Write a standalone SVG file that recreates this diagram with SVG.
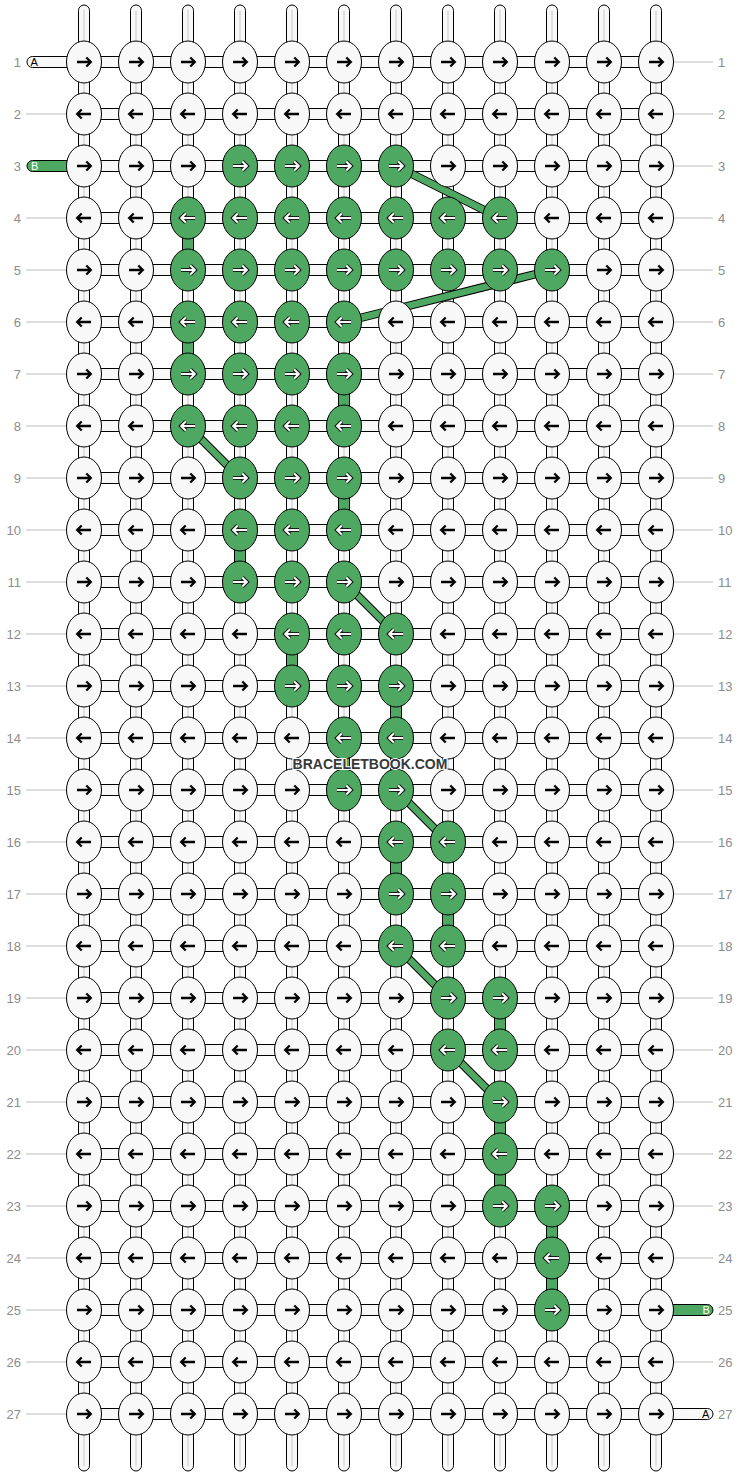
<svg xmlns="http://www.w3.org/2000/svg" xmlns:xlink="http://www.w3.org/1999/xlink" width="740" height="1476" viewBox="0 0 740 1476">
<defs>
<style>
.tube{fill:#f8f8f8;stroke:#000;stroke-width:1}
.core{stroke:#c8c8c8;stroke-width:1}
.gline{stroke:#bdbdbd;stroke-width:1}
.num{font-family:"Liberation Sans",Arial,sans-serif;font-size:13px;fill:#8c8c8c}
.let{font-family:"Liberation Sans",Arial,sans-serif;font-size:11px}
.kw{fill:#f8f8f8;stroke:#000;stroke-width:1}
.kg{fill:#4ea862;stroke:#000;stroke-width:1}
.ab{fill:none;stroke:#000;stroke-width:2.3}
.ao{fill:none;stroke:#1a1a1a;stroke-width:4.2}
.aw{fill:none;stroke:#fff;stroke-width:2}
.gv{fill:#4ea862;stroke:#000;stroke-width:1}
.dk{stroke:#000;stroke-width:8.5;stroke-linecap:butt}
.dg{stroke:#4ea862;stroke-width:6.5;stroke-linecap:butt}
.wm{font-family:"Liberation Sans",Arial,sans-serif;font-size:14px;font-weight:bold;fill:#383838;stroke:#fff;stroke-width:2;paint-order:stroke;text-anchor:middle}
</style>
<path id="pr" d="M-7,0H6M2.3,-4.5L6.8,0L2.3,4.5"/>
<path id="pl" d="M7,0H-6M-2.3,-4.5L-6.8,0L-2.3,4.5"/>
<g id="wr"><ellipse class="kw" rx="17.5" ry="21"/><use xlink:href="#pr" class="ab"/></g>
<g id="wl"><ellipse class="kw" rx="17.5" ry="21"/><use xlink:href="#pl" class="ab"/></g>
<g id="gr"><ellipse class="kg" rx="17.5" ry="21"/><use xlink:href="#pr" class="ao"/><use xlink:href="#pr" class="aw"/></g>
<g id="gl"><ellipse class="kg" rx="17.5" ry="21"/><use xlink:href="#pl" class="ao"/><use xlink:href="#pl" class="aw"/></g>
</defs>
<rect width="740" height="1476" fill="#fff"/>
<g id="labels">
<g class="gline">
<line x1="26" y1="114" x2="66" y2="114"/><line x1="26" y1="218" x2="66" y2="218"/><line x1="26" y1="270" x2="66" y2="270"/><line x1="26" y1="322" x2="66" y2="322"/><line x1="26" y1="374" x2="66" y2="374"/><line x1="26" y1="426" x2="66" y2="426"/><line x1="26" y1="478" x2="66" y2="478"/><line x1="26" y1="530" x2="66" y2="530"/><line x1="26" y1="582" x2="66" y2="582"/><line x1="26" y1="634" x2="66" y2="634"/><line x1="26" y1="686" x2="66" y2="686"/><line x1="26" y1="738" x2="66" y2="738"/><line x1="26" y1="790" x2="66" y2="790"/><line x1="26" y1="842" x2="66" y2="842"/><line x1="26" y1="894" x2="66" y2="894"/><line x1="26" y1="946" x2="66" y2="946"/><line x1="26" y1="998" x2="66" y2="998"/><line x1="26" y1="1050" x2="66" y2="1050"/><line x1="26" y1="1102" x2="66" y2="1102"/><line x1="26" y1="1154" x2="66" y2="1154"/><line x1="26" y1="1206" x2="66" y2="1206"/><line x1="26" y1="1258" x2="66" y2="1258"/><line x1="26" y1="1310" x2="66" y2="1310"/><line x1="26" y1="1362" x2="66" y2="1362"/><line x1="26" y1="1414" x2="66" y2="1414"/>
<line x1="674" y1="62" x2="713" y2="62"/><line x1="674" y1="114" x2="713" y2="114"/><line x1="674" y1="166" x2="713" y2="166"/><line x1="674" y1="218" x2="713" y2="218"/><line x1="674" y1="270" x2="713" y2="270"/><line x1="674" y1="322" x2="713" y2="322"/><line x1="674" y1="374" x2="713" y2="374"/><line x1="674" y1="426" x2="713" y2="426"/><line x1="674" y1="478" x2="713" y2="478"/><line x1="674" y1="530" x2="713" y2="530"/><line x1="674" y1="582" x2="713" y2="582"/><line x1="674" y1="634" x2="713" y2="634"/><line x1="674" y1="686" x2="713" y2="686"/><line x1="674" y1="738" x2="713" y2="738"/><line x1="674" y1="790" x2="713" y2="790"/><line x1="674" y1="842" x2="713" y2="842"/><line x1="674" y1="894" x2="713" y2="894"/><line x1="674" y1="946" x2="713" y2="946"/><line x1="674" y1="998" x2="713" y2="998"/><line x1="674" y1="1050" x2="713" y2="1050"/><line x1="674" y1="1102" x2="713" y2="1102"/><line x1="674" y1="1154" x2="713" y2="1154"/><line x1="674" y1="1206" x2="713" y2="1206"/><line x1="674" y1="1258" x2="713" y2="1258"/><line x1="674" y1="1362" x2="713" y2="1362"/>
</g>
<g class="num" text-anchor="end">
<text x="21" y="66.5">1</text><text x="21" y="118.5">2</text><text x="21" y="170.5">3</text><text x="21" y="222.5">4</text><text x="21" y="274.5">5</text><text x="21" y="326.5">6</text><text x="21" y="378.5">7</text><text x="21" y="430.5">8</text><text x="21" y="482.5">9</text><text x="21" y="534.5">10</text><text x="21" y="586.5">11</text><text x="21" y="638.5">12</text><text x="21" y="690.5">13</text><text x="21" y="742.5">14</text><text x="21" y="794.5">15</text><text x="21" y="846.5">16</text><text x="21" y="898.5">17</text><text x="21" y="950.5">18</text><text x="21" y="1002.5">19</text><text x="21" y="1054.5">20</text><text x="21" y="1106.5">21</text><text x="21" y="1158.5">22</text><text x="21" y="1210.5">23</text><text x="21" y="1262.5">24</text><text x="21" y="1314.5">25</text><text x="21" y="1366.5">26</text><text x="21" y="1418.5">27</text>
</g>
<g class="num">
<text x="718" y="66.5">1</text><text x="718" y="118.5">2</text><text x="718" y="170.5">3</text><text x="718" y="222.5">4</text><text x="718" y="274.5">5</text><text x="718" y="326.5">6</text><text x="718" y="378.5">7</text><text x="718" y="430.5">8</text><text x="718" y="482.5">9</text><text x="718" y="534.5">10</text><text x="718" y="586.5">11</text><text x="718" y="638.5">12</text><text x="718" y="690.5">13</text><text x="718" y="742.5">14</text><text x="718" y="794.5">15</text><text x="718" y="846.5">16</text><text x="718" y="898.5">17</text><text x="718" y="950.5">18</text><text x="718" y="1002.5">19</text><text x="718" y="1054.5">20</text><text x="718" y="1106.5">21</text><text x="718" y="1158.5">22</text><text x="718" y="1210.5">23</text><text x="718" y="1262.5">24</text><text x="718" y="1314.5">25</text><text x="718" y="1366.5">26</text><text x="718" y="1418.5">27</text>
</g>
</g>
<g id="connectors">
<g id="vertical-strands">
<rect class="tube" x="78.5" y="5" width="11" height="1466" rx="5.5"/><rect class="tube" x="130.5" y="5" width="11" height="1466" rx="5.5"/><rect class="tube" x="182.5" y="5" width="11" height="1466" rx="5.5"/><rect class="tube" x="234.5" y="5" width="11" height="1466" rx="5.5"/><rect class="tube" x="286.5" y="5" width="11" height="1466" rx="5.5"/><rect class="tube" x="338.5" y="5" width="11" height="1466" rx="5.5"/><rect class="tube" x="390.5" y="5" width="11" height="1466" rx="5.5"/><rect class="tube" x="442.5" y="5" width="11" height="1466" rx="5.5"/><rect class="tube" x="494.5" y="5" width="11" height="1466" rx="5.5"/><rect class="tube" x="546.5" y="5" width="11" height="1466" rx="5.5"/><rect class="tube" x="598.5" y="5" width="11" height="1466" rx="5.5"/><rect class="tube" x="650.5" y="5" width="11" height="1466" rx="5.5"/>
<g class="core"><line x1="84" y1="10" x2="84" y2="1466"/><line x1="136" y1="10" x2="136" y2="1466"/><line x1="188" y1="10" x2="188" y2="1466"/><line x1="240" y1="10" x2="240" y2="1466"/><line x1="292" y1="10" x2="292" y2="1466"/><line x1="344" y1="10" x2="344" y2="1466"/><line x1="396" y1="10" x2="396" y2="1466"/><line x1="448" y1="10" x2="448" y2="1466"/><line x1="500" y1="10" x2="500" y2="1466"/><line x1="552" y1="10" x2="552" y2="1466"/><line x1="604" y1="10" x2="604" y2="1466"/><line x1="656" y1="10" x2="656" y2="1466"/></g>
</g>
<g id="horizontal-strands">
<rect class="tube" x="84" y="56.5" width="572" height="11"/><rect class="tube" x="84" y="108.5" width="572" height="11"/><rect class="tube" x="84" y="160.5" width="572" height="11"/><rect class="tube" x="84" y="212.5" width="572" height="11"/><rect class="tube" x="84" y="264.5" width="572" height="11"/><rect class="tube" x="84" y="316.5" width="572" height="11"/><rect class="tube" x="84" y="368.5" width="572" height="11"/><rect class="tube" x="84" y="420.5" width="572" height="11"/><rect class="tube" x="84" y="472.5" width="572" height="11"/><rect class="tube" x="84" y="524.5" width="572" height="11"/><rect class="tube" x="84" y="576.5" width="572" height="11"/><rect class="tube" x="84" y="628.5" width="572" height="11"/><rect class="tube" x="84" y="680.5" width="572" height="11"/><rect class="tube" x="84" y="732.5" width="572" height="11"/><rect class="tube" x="84" y="784.5" width="572" height="11"/><rect class="tube" x="84" y="836.5" width="572" height="11"/><rect class="tube" x="84" y="888.5" width="572" height="11"/><rect class="tube" x="84" y="940.5" width="572" height="11"/><rect class="tube" x="84" y="992.5" width="572" height="11"/><rect class="tube" x="84" y="1044.5" width="572" height="11"/><rect class="tube" x="84" y="1096.5" width="572" height="11"/><rect class="tube" x="84" y="1148.5" width="572" height="11"/><rect class="tube" x="84" y="1200.5" width="572" height="11"/><rect class="tube" x="84" y="1252.5" width="572" height="11"/><rect class="tube" x="84" y="1304.5" width="572" height="11"/><rect class="tube" x="84" y="1356.5" width="572" height="11"/><rect class="tube" x="84" y="1408.5" width="572" height="11"/>
</g>
<g id="end-strands">
<rect class="tube" x="27" y="56.5" width="50" height="11" rx="5.5"/>
<rect class="gv" x="27" y="160.5" width="50" height="11" rx="5.5"/>
<rect class="gv" x="663" y="1304.5" width="50" height="11" rx="5.5"/>
<rect class="tube" x="663" y="1408.5" width="50" height="11" rx="5.5"/>
<text class="let" x="30.5" y="66" fill="#000">A</text>
<text class="let" x="31" y="170" fill="#fff">B</text>
<text class="let" x="702.5" y="1314" fill="#fff">B</text>
<text class="let" x="702" y="1418" fill="#000">A</text>
</g>
<g id="green-vertical">
<rect class="gv" x="182.5" y="236" width="11" height="16"/><rect class="gv" x="182.5" y="340" width="11" height="16"/><rect class="gv" x="338.5" y="392" width="11" height="16"/><rect class="gv" x="338.5" y="496" width="11" height="16"/><rect class="gv" x="234.5" y="548" width="11" height="16"/><rect class="gv" x="286.5" y="652" width="11" height="16"/><rect class="gv" x="390.5" y="704" width="11" height="16"/><rect class="gv" x="338.5" y="756" width="11" height="16"/><rect class="gv" x="390.5" y="860" width="11" height="16"/><rect class="gv" x="442.5" y="912" width="11" height="16"/><rect class="gv" x="494.5" y="1016" width="11" height="16"/><rect class="gv" x="494.5" y="1120" width="11" height="16"/><rect class="gv" x="494.5" y="1172" width="11" height="16"/><rect class="gv" x="546.5" y="1224" width="11" height="16"/><rect class="gv" x="546.5" y="1276" width="11" height="16"/>
</g>
<g id="green-diagonal">
<g class="dk"><line x1="396" y1="166" x2="500" y2="218"/><line x1="552" y1="270" x2="344" y2="322"/><line x1="188" y1="426" x2="240" y2="478"/><line x1="344" y1="582" x2="396" y2="634"/><line x1="396" y1="790" x2="448" y2="842"/><line x1="396" y1="946" x2="448" y2="998"/><line x1="448" y1="1050" x2="500" y2="1102"/></g>
<g class="dg"><line x1="396" y1="166" x2="500" y2="218"/><line x1="552" y1="270" x2="344" y2="322"/><line x1="188" y1="426" x2="240" y2="478"/><line x1="344" y1="582" x2="396" y2="634"/><line x1="396" y1="790" x2="448" y2="842"/><line x1="396" y1="946" x2="448" y2="998"/><line x1="448" y1="1050" x2="500" y2="1102"/></g>
</g>
</g>
<g id="knots">
<g id="k1-1" transform="translate(84 62)"><use xlink:href="#wr"/></g><g id="k1-2" transform="translate(136 62)"><use xlink:href="#wr"/></g><g id="k1-3" transform="translate(188 62)"><use xlink:href="#wr"/></g><g id="k1-4" transform="translate(240 62)"><use xlink:href="#wr"/></g><g id="k1-5" transform="translate(292 62)"><use xlink:href="#wr"/></g><g id="k1-6" transform="translate(344 62)"><use xlink:href="#wr"/></g><g id="k1-7" transform="translate(396 62)"><use xlink:href="#wr"/></g><g id="k1-8" transform="translate(448 62)"><use xlink:href="#wr"/></g><g id="k1-9" transform="translate(500 62)"><use xlink:href="#wr"/></g><g id="k1-10" transform="translate(552 62)"><use xlink:href="#wr"/></g><g id="k1-11" transform="translate(604 62)"><use xlink:href="#wr"/></g><g id="k1-12" transform="translate(656 62)"><use xlink:href="#wr"/></g>
<g id="k2-1" transform="translate(84 114)"><use xlink:href="#wl"/></g><g id="k2-2" transform="translate(136 114)"><use xlink:href="#wl"/></g><g id="k2-3" transform="translate(188 114)"><use xlink:href="#wl"/></g><g id="k2-4" transform="translate(240 114)"><use xlink:href="#wl"/></g><g id="k2-5" transform="translate(292 114)"><use xlink:href="#wl"/></g><g id="k2-6" transform="translate(344 114)"><use xlink:href="#wl"/></g><g id="k2-7" transform="translate(396 114)"><use xlink:href="#wl"/></g><g id="k2-8" transform="translate(448 114)"><use xlink:href="#wl"/></g><g id="k2-9" transform="translate(500 114)"><use xlink:href="#wl"/></g><g id="k2-10" transform="translate(552 114)"><use xlink:href="#wl"/></g><g id="k2-11" transform="translate(604 114)"><use xlink:href="#wl"/></g><g id="k2-12" transform="translate(656 114)"><use xlink:href="#wl"/></g>
<g id="k3-1" transform="translate(84 166)"><use xlink:href="#wr"/></g><g id="k3-2" transform="translate(136 166)"><use xlink:href="#wr"/></g><g id="k3-3" transform="translate(188 166)"><use xlink:href="#wr"/></g><g id="k3-4" transform="translate(240 166)"><use xlink:href="#gr"/></g><g id="k3-5" transform="translate(292 166)"><use xlink:href="#gr"/></g><g id="k3-6" transform="translate(344 166)"><use xlink:href="#gr"/></g><g id="k3-7" transform="translate(396 166)"><use xlink:href="#gr"/></g><g id="k3-8" transform="translate(448 166)"><use xlink:href="#wr"/></g><g id="k3-9" transform="translate(500 166)"><use xlink:href="#wr"/></g><g id="k3-10" transform="translate(552 166)"><use xlink:href="#wr"/></g><g id="k3-11" transform="translate(604 166)"><use xlink:href="#wr"/></g><g id="k3-12" transform="translate(656 166)"><use xlink:href="#wr"/></g>
<g id="k4-1" transform="translate(84 218)"><use xlink:href="#wl"/></g><g id="k4-2" transform="translate(136 218)"><use xlink:href="#wl"/></g><g id="k4-3" transform="translate(188 218)"><use xlink:href="#gl"/></g><g id="k4-4" transform="translate(240 218)"><use xlink:href="#gl"/></g><g id="k4-5" transform="translate(292 218)"><use xlink:href="#gl"/></g><g id="k4-6" transform="translate(344 218)"><use xlink:href="#gl"/></g><g id="k4-7" transform="translate(396 218)"><use xlink:href="#gl"/></g><g id="k4-8" transform="translate(448 218)"><use xlink:href="#gl"/></g><g id="k4-9" transform="translate(500 218)"><use xlink:href="#gl"/></g><g id="k4-10" transform="translate(552 218)"><use xlink:href="#wl"/></g><g id="k4-11" transform="translate(604 218)"><use xlink:href="#wl"/></g><g id="k4-12" transform="translate(656 218)"><use xlink:href="#wl"/></g>
<g id="k5-1" transform="translate(84 270)"><use xlink:href="#wr"/></g><g id="k5-2" transform="translate(136 270)"><use xlink:href="#wr"/></g><g id="k5-3" transform="translate(188 270)"><use xlink:href="#gr"/></g><g id="k5-4" transform="translate(240 270)"><use xlink:href="#gr"/></g><g id="k5-5" transform="translate(292 270)"><use xlink:href="#gr"/></g><g id="k5-6" transform="translate(344 270)"><use xlink:href="#gr"/></g><g id="k5-7" transform="translate(396 270)"><use xlink:href="#gr"/></g><g id="k5-8" transform="translate(448 270)"><use xlink:href="#gr"/></g><g id="k5-9" transform="translate(500 270)"><use xlink:href="#gr"/></g><g id="k5-10" transform="translate(552 270)"><use xlink:href="#gr"/></g><g id="k5-11" transform="translate(604 270)"><use xlink:href="#wr"/></g><g id="k5-12" transform="translate(656 270)"><use xlink:href="#wr"/></g>
<g id="k6-1" transform="translate(84 322)"><use xlink:href="#wl"/></g><g id="k6-2" transform="translate(136 322)"><use xlink:href="#wl"/></g><g id="k6-3" transform="translate(188 322)"><use xlink:href="#gl"/></g><g id="k6-4" transform="translate(240 322)"><use xlink:href="#gl"/></g><g id="k6-5" transform="translate(292 322)"><use xlink:href="#gl"/></g><g id="k6-6" transform="translate(344 322)"><use xlink:href="#gl"/></g><g id="k6-7" transform="translate(396 322)"><use xlink:href="#wl"/></g><g id="k6-8" transform="translate(448 322)"><use xlink:href="#wl"/></g><g id="k6-9" transform="translate(500 322)"><use xlink:href="#wl"/></g><g id="k6-10" transform="translate(552 322)"><use xlink:href="#wl"/></g><g id="k6-11" transform="translate(604 322)"><use xlink:href="#wl"/></g><g id="k6-12" transform="translate(656 322)"><use xlink:href="#wl"/></g>
<g id="k7-1" transform="translate(84 374)"><use xlink:href="#wr"/></g><g id="k7-2" transform="translate(136 374)"><use xlink:href="#wr"/></g><g id="k7-3" transform="translate(188 374)"><use xlink:href="#gr"/></g><g id="k7-4" transform="translate(240 374)"><use xlink:href="#gr"/></g><g id="k7-5" transform="translate(292 374)"><use xlink:href="#gr"/></g><g id="k7-6" transform="translate(344 374)"><use xlink:href="#gr"/></g><g id="k7-7" transform="translate(396 374)"><use xlink:href="#wr"/></g><g id="k7-8" transform="translate(448 374)"><use xlink:href="#wr"/></g><g id="k7-9" transform="translate(500 374)"><use xlink:href="#wr"/></g><g id="k7-10" transform="translate(552 374)"><use xlink:href="#wr"/></g><g id="k7-11" transform="translate(604 374)"><use xlink:href="#wr"/></g><g id="k7-12" transform="translate(656 374)"><use xlink:href="#wr"/></g>
<g id="k8-1" transform="translate(84 426)"><use xlink:href="#wl"/></g><g id="k8-2" transform="translate(136 426)"><use xlink:href="#wl"/></g><g id="k8-3" transform="translate(188 426)"><use xlink:href="#gl"/></g><g id="k8-4" transform="translate(240 426)"><use xlink:href="#gl"/></g><g id="k8-5" transform="translate(292 426)"><use xlink:href="#gl"/></g><g id="k8-6" transform="translate(344 426)"><use xlink:href="#gl"/></g><g id="k8-7" transform="translate(396 426)"><use xlink:href="#wl"/></g><g id="k8-8" transform="translate(448 426)"><use xlink:href="#wl"/></g><g id="k8-9" transform="translate(500 426)"><use xlink:href="#wl"/></g><g id="k8-10" transform="translate(552 426)"><use xlink:href="#wl"/></g><g id="k8-11" transform="translate(604 426)"><use xlink:href="#wl"/></g><g id="k8-12" transform="translate(656 426)"><use xlink:href="#wl"/></g>
<g id="k9-1" transform="translate(84 478)"><use xlink:href="#wr"/></g><g id="k9-2" transform="translate(136 478)"><use xlink:href="#wr"/></g><g id="k9-3" transform="translate(188 478)"><use xlink:href="#wr"/></g><g id="k9-4" transform="translate(240 478)"><use xlink:href="#gr"/></g><g id="k9-5" transform="translate(292 478)"><use xlink:href="#gr"/></g><g id="k9-6" transform="translate(344 478)"><use xlink:href="#gr"/></g><g id="k9-7" transform="translate(396 478)"><use xlink:href="#wr"/></g><g id="k9-8" transform="translate(448 478)"><use xlink:href="#wr"/></g><g id="k9-9" transform="translate(500 478)"><use xlink:href="#wr"/></g><g id="k9-10" transform="translate(552 478)"><use xlink:href="#wr"/></g><g id="k9-11" transform="translate(604 478)"><use xlink:href="#wr"/></g><g id="k9-12" transform="translate(656 478)"><use xlink:href="#wr"/></g>
<g id="k10-1" transform="translate(84 530)"><use xlink:href="#wl"/></g><g id="k10-2" transform="translate(136 530)"><use xlink:href="#wl"/></g><g id="k10-3" transform="translate(188 530)"><use xlink:href="#wl"/></g><g id="k10-4" transform="translate(240 530)"><use xlink:href="#gl"/></g><g id="k10-5" transform="translate(292 530)"><use xlink:href="#gl"/></g><g id="k10-6" transform="translate(344 530)"><use xlink:href="#gl"/></g><g id="k10-7" transform="translate(396 530)"><use xlink:href="#wl"/></g><g id="k10-8" transform="translate(448 530)"><use xlink:href="#wl"/></g><g id="k10-9" transform="translate(500 530)"><use xlink:href="#wl"/></g><g id="k10-10" transform="translate(552 530)"><use xlink:href="#wl"/></g><g id="k10-11" transform="translate(604 530)"><use xlink:href="#wl"/></g><g id="k10-12" transform="translate(656 530)"><use xlink:href="#wl"/></g>
<g id="k11-1" transform="translate(84 582)"><use xlink:href="#wr"/></g><g id="k11-2" transform="translate(136 582)"><use xlink:href="#wr"/></g><g id="k11-3" transform="translate(188 582)"><use xlink:href="#wr"/></g><g id="k11-4" transform="translate(240 582)"><use xlink:href="#gr"/></g><g id="k11-5" transform="translate(292 582)"><use xlink:href="#gr"/></g><g id="k11-6" transform="translate(344 582)"><use xlink:href="#gr"/></g><g id="k11-7" transform="translate(396 582)"><use xlink:href="#wr"/></g><g id="k11-8" transform="translate(448 582)"><use xlink:href="#wr"/></g><g id="k11-9" transform="translate(500 582)"><use xlink:href="#wr"/></g><g id="k11-10" transform="translate(552 582)"><use xlink:href="#wr"/></g><g id="k11-11" transform="translate(604 582)"><use xlink:href="#wr"/></g><g id="k11-12" transform="translate(656 582)"><use xlink:href="#wr"/></g>
<g id="k12-1" transform="translate(84 634)"><use xlink:href="#wl"/></g><g id="k12-2" transform="translate(136 634)"><use xlink:href="#wl"/></g><g id="k12-3" transform="translate(188 634)"><use xlink:href="#wl"/></g><g id="k12-4" transform="translate(240 634)"><use xlink:href="#wl"/></g><g id="k12-5" transform="translate(292 634)"><use xlink:href="#gl"/></g><g id="k12-6" transform="translate(344 634)"><use xlink:href="#gl"/></g><g id="k12-7" transform="translate(396 634)"><use xlink:href="#gl"/></g><g id="k12-8" transform="translate(448 634)"><use xlink:href="#wl"/></g><g id="k12-9" transform="translate(500 634)"><use xlink:href="#wl"/></g><g id="k12-10" transform="translate(552 634)"><use xlink:href="#wl"/></g><g id="k12-11" transform="translate(604 634)"><use xlink:href="#wl"/></g><g id="k12-12" transform="translate(656 634)"><use xlink:href="#wl"/></g>
<g id="k13-1" transform="translate(84 686)"><use xlink:href="#wr"/></g><g id="k13-2" transform="translate(136 686)"><use xlink:href="#wr"/></g><g id="k13-3" transform="translate(188 686)"><use xlink:href="#wr"/></g><g id="k13-4" transform="translate(240 686)"><use xlink:href="#wr"/></g><g id="k13-5" transform="translate(292 686)"><use xlink:href="#gr"/></g><g id="k13-6" transform="translate(344 686)"><use xlink:href="#gr"/></g><g id="k13-7" transform="translate(396 686)"><use xlink:href="#gr"/></g><g id="k13-8" transform="translate(448 686)"><use xlink:href="#wr"/></g><g id="k13-9" transform="translate(500 686)"><use xlink:href="#wr"/></g><g id="k13-10" transform="translate(552 686)"><use xlink:href="#wr"/></g><g id="k13-11" transform="translate(604 686)"><use xlink:href="#wr"/></g><g id="k13-12" transform="translate(656 686)"><use xlink:href="#wr"/></g>
<g id="k14-1" transform="translate(84 738)"><use xlink:href="#wl"/></g><g id="k14-2" transform="translate(136 738)"><use xlink:href="#wl"/></g><g id="k14-3" transform="translate(188 738)"><use xlink:href="#wl"/></g><g id="k14-4" transform="translate(240 738)"><use xlink:href="#wl"/></g><g id="k14-5" transform="translate(292 738)"><use xlink:href="#wl"/></g><g id="k14-6" transform="translate(344 738)"><use xlink:href="#gl"/></g><g id="k14-7" transform="translate(396 738)"><use xlink:href="#gl"/></g><g id="k14-8" transform="translate(448 738)"><use xlink:href="#wl"/></g><g id="k14-9" transform="translate(500 738)"><use xlink:href="#wl"/></g><g id="k14-10" transform="translate(552 738)"><use xlink:href="#wl"/></g><g id="k14-11" transform="translate(604 738)"><use xlink:href="#wl"/></g><g id="k14-12" transform="translate(656 738)"><use xlink:href="#wl"/></g>
<g id="k15-1" transform="translate(84 790)"><use xlink:href="#wr"/></g><g id="k15-2" transform="translate(136 790)"><use xlink:href="#wr"/></g><g id="k15-3" transform="translate(188 790)"><use xlink:href="#wr"/></g><g id="k15-4" transform="translate(240 790)"><use xlink:href="#wr"/></g><g id="k15-5" transform="translate(292 790)"><use xlink:href="#wr"/></g><g id="k15-6" transform="translate(344 790)"><use xlink:href="#gr"/></g><g id="k15-7" transform="translate(396 790)"><use xlink:href="#gr"/></g><g id="k15-8" transform="translate(448 790)"><use xlink:href="#wr"/></g><g id="k15-9" transform="translate(500 790)"><use xlink:href="#wr"/></g><g id="k15-10" transform="translate(552 790)"><use xlink:href="#wr"/></g><g id="k15-11" transform="translate(604 790)"><use xlink:href="#wr"/></g><g id="k15-12" transform="translate(656 790)"><use xlink:href="#wr"/></g>
<g id="k16-1" transform="translate(84 842)"><use xlink:href="#wl"/></g><g id="k16-2" transform="translate(136 842)"><use xlink:href="#wl"/></g><g id="k16-3" transform="translate(188 842)"><use xlink:href="#wl"/></g><g id="k16-4" transform="translate(240 842)"><use xlink:href="#wl"/></g><g id="k16-5" transform="translate(292 842)"><use xlink:href="#wl"/></g><g id="k16-6" transform="translate(344 842)"><use xlink:href="#wl"/></g><g id="k16-7" transform="translate(396 842)"><use xlink:href="#gl"/></g><g id="k16-8" transform="translate(448 842)"><use xlink:href="#gl"/></g><g id="k16-9" transform="translate(500 842)"><use xlink:href="#wl"/></g><g id="k16-10" transform="translate(552 842)"><use xlink:href="#wl"/></g><g id="k16-11" transform="translate(604 842)"><use xlink:href="#wl"/></g><g id="k16-12" transform="translate(656 842)"><use xlink:href="#wl"/></g>
<g id="k17-1" transform="translate(84 894)"><use xlink:href="#wr"/></g><g id="k17-2" transform="translate(136 894)"><use xlink:href="#wr"/></g><g id="k17-3" transform="translate(188 894)"><use xlink:href="#wr"/></g><g id="k17-4" transform="translate(240 894)"><use xlink:href="#wr"/></g><g id="k17-5" transform="translate(292 894)"><use xlink:href="#wr"/></g><g id="k17-6" transform="translate(344 894)"><use xlink:href="#wr"/></g><g id="k17-7" transform="translate(396 894)"><use xlink:href="#gr"/></g><g id="k17-8" transform="translate(448 894)"><use xlink:href="#gr"/></g><g id="k17-9" transform="translate(500 894)"><use xlink:href="#wr"/></g><g id="k17-10" transform="translate(552 894)"><use xlink:href="#wr"/></g><g id="k17-11" transform="translate(604 894)"><use xlink:href="#wr"/></g><g id="k17-12" transform="translate(656 894)"><use xlink:href="#wr"/></g>
<g id="k18-1" transform="translate(84 946)"><use xlink:href="#wl"/></g><g id="k18-2" transform="translate(136 946)"><use xlink:href="#wl"/></g><g id="k18-3" transform="translate(188 946)"><use xlink:href="#wl"/></g><g id="k18-4" transform="translate(240 946)"><use xlink:href="#wl"/></g><g id="k18-5" transform="translate(292 946)"><use xlink:href="#wl"/></g><g id="k18-6" transform="translate(344 946)"><use xlink:href="#wl"/></g><g id="k18-7" transform="translate(396 946)"><use xlink:href="#gl"/></g><g id="k18-8" transform="translate(448 946)"><use xlink:href="#gl"/></g><g id="k18-9" transform="translate(500 946)"><use xlink:href="#wl"/></g><g id="k18-10" transform="translate(552 946)"><use xlink:href="#wl"/></g><g id="k18-11" transform="translate(604 946)"><use xlink:href="#wl"/></g><g id="k18-12" transform="translate(656 946)"><use xlink:href="#wl"/></g>
<g id="k19-1" transform="translate(84 998)"><use xlink:href="#wr"/></g><g id="k19-2" transform="translate(136 998)"><use xlink:href="#wr"/></g><g id="k19-3" transform="translate(188 998)"><use xlink:href="#wr"/></g><g id="k19-4" transform="translate(240 998)"><use xlink:href="#wr"/></g><g id="k19-5" transform="translate(292 998)"><use xlink:href="#wr"/></g><g id="k19-6" transform="translate(344 998)"><use xlink:href="#wr"/></g><g id="k19-7" transform="translate(396 998)"><use xlink:href="#wr"/></g><g id="k19-8" transform="translate(448 998)"><use xlink:href="#gr"/></g><g id="k19-9" transform="translate(500 998)"><use xlink:href="#gr"/></g><g id="k19-10" transform="translate(552 998)"><use xlink:href="#wr"/></g><g id="k19-11" transform="translate(604 998)"><use xlink:href="#wr"/></g><g id="k19-12" transform="translate(656 998)"><use xlink:href="#wr"/></g>
<g id="k20-1" transform="translate(84 1050)"><use xlink:href="#wl"/></g><g id="k20-2" transform="translate(136 1050)"><use xlink:href="#wl"/></g><g id="k20-3" transform="translate(188 1050)"><use xlink:href="#wl"/></g><g id="k20-4" transform="translate(240 1050)"><use xlink:href="#wl"/></g><g id="k20-5" transform="translate(292 1050)"><use xlink:href="#wl"/></g><g id="k20-6" transform="translate(344 1050)"><use xlink:href="#wl"/></g><g id="k20-7" transform="translate(396 1050)"><use xlink:href="#wl"/></g><g id="k20-8" transform="translate(448 1050)"><use xlink:href="#gl"/></g><g id="k20-9" transform="translate(500 1050)"><use xlink:href="#gl"/></g><g id="k20-10" transform="translate(552 1050)"><use xlink:href="#wl"/></g><g id="k20-11" transform="translate(604 1050)"><use xlink:href="#wl"/></g><g id="k20-12" transform="translate(656 1050)"><use xlink:href="#wl"/></g>
<g id="k21-1" transform="translate(84 1102)"><use xlink:href="#wr"/></g><g id="k21-2" transform="translate(136 1102)"><use xlink:href="#wr"/></g><g id="k21-3" transform="translate(188 1102)"><use xlink:href="#wr"/></g><g id="k21-4" transform="translate(240 1102)"><use xlink:href="#wr"/></g><g id="k21-5" transform="translate(292 1102)"><use xlink:href="#wr"/></g><g id="k21-6" transform="translate(344 1102)"><use xlink:href="#wr"/></g><g id="k21-7" transform="translate(396 1102)"><use xlink:href="#wr"/></g><g id="k21-8" transform="translate(448 1102)"><use xlink:href="#wr"/></g><g id="k21-9" transform="translate(500 1102)"><use xlink:href="#gr"/></g><g id="k21-10" transform="translate(552 1102)"><use xlink:href="#wr"/></g><g id="k21-11" transform="translate(604 1102)"><use xlink:href="#wr"/></g><g id="k21-12" transform="translate(656 1102)"><use xlink:href="#wr"/></g>
<g id="k22-1" transform="translate(84 1154)"><use xlink:href="#wl"/></g><g id="k22-2" transform="translate(136 1154)"><use xlink:href="#wl"/></g><g id="k22-3" transform="translate(188 1154)"><use xlink:href="#wl"/></g><g id="k22-4" transform="translate(240 1154)"><use xlink:href="#wl"/></g><g id="k22-5" transform="translate(292 1154)"><use xlink:href="#wl"/></g><g id="k22-6" transform="translate(344 1154)"><use xlink:href="#wl"/></g><g id="k22-7" transform="translate(396 1154)"><use xlink:href="#wl"/></g><g id="k22-8" transform="translate(448 1154)"><use xlink:href="#wl"/></g><g id="k22-9" transform="translate(500 1154)"><use xlink:href="#gl"/></g><g id="k22-10" transform="translate(552 1154)"><use xlink:href="#wl"/></g><g id="k22-11" transform="translate(604 1154)"><use xlink:href="#wl"/></g><g id="k22-12" transform="translate(656 1154)"><use xlink:href="#wl"/></g>
<g id="k23-1" transform="translate(84 1206)"><use xlink:href="#wr"/></g><g id="k23-2" transform="translate(136 1206)"><use xlink:href="#wr"/></g><g id="k23-3" transform="translate(188 1206)"><use xlink:href="#wr"/></g><g id="k23-4" transform="translate(240 1206)"><use xlink:href="#wr"/></g><g id="k23-5" transform="translate(292 1206)"><use xlink:href="#wr"/></g><g id="k23-6" transform="translate(344 1206)"><use xlink:href="#wr"/></g><g id="k23-7" transform="translate(396 1206)"><use xlink:href="#wr"/></g><g id="k23-8" transform="translate(448 1206)"><use xlink:href="#wr"/></g><g id="k23-9" transform="translate(500 1206)"><use xlink:href="#gr"/></g><g id="k23-10" transform="translate(552 1206)"><use xlink:href="#gr"/></g><g id="k23-11" transform="translate(604 1206)"><use xlink:href="#wr"/></g><g id="k23-12" transform="translate(656 1206)"><use xlink:href="#wr"/></g>
<g id="k24-1" transform="translate(84 1258)"><use xlink:href="#wl"/></g><g id="k24-2" transform="translate(136 1258)"><use xlink:href="#wl"/></g><g id="k24-3" transform="translate(188 1258)"><use xlink:href="#wl"/></g><g id="k24-4" transform="translate(240 1258)"><use xlink:href="#wl"/></g><g id="k24-5" transform="translate(292 1258)"><use xlink:href="#wl"/></g><g id="k24-6" transform="translate(344 1258)"><use xlink:href="#wl"/></g><g id="k24-7" transform="translate(396 1258)"><use xlink:href="#wl"/></g><g id="k24-8" transform="translate(448 1258)"><use xlink:href="#wl"/></g><g id="k24-9" transform="translate(500 1258)"><use xlink:href="#wl"/></g><g id="k24-10" transform="translate(552 1258)"><use xlink:href="#gl"/></g><g id="k24-11" transform="translate(604 1258)"><use xlink:href="#wl"/></g><g id="k24-12" transform="translate(656 1258)"><use xlink:href="#wl"/></g>
<g id="k25-1" transform="translate(84 1310)"><use xlink:href="#wr"/></g><g id="k25-2" transform="translate(136 1310)"><use xlink:href="#wr"/></g><g id="k25-3" transform="translate(188 1310)"><use xlink:href="#wr"/></g><g id="k25-4" transform="translate(240 1310)"><use xlink:href="#wr"/></g><g id="k25-5" transform="translate(292 1310)"><use xlink:href="#wr"/></g><g id="k25-6" transform="translate(344 1310)"><use xlink:href="#wr"/></g><g id="k25-7" transform="translate(396 1310)"><use xlink:href="#wr"/></g><g id="k25-8" transform="translate(448 1310)"><use xlink:href="#wr"/></g><g id="k25-9" transform="translate(500 1310)"><use xlink:href="#wr"/></g><g id="k25-10" transform="translate(552 1310)"><use xlink:href="#gr"/></g><g id="k25-11" transform="translate(604 1310)"><use xlink:href="#wr"/></g><g id="k25-12" transform="translate(656 1310)"><use xlink:href="#wr"/></g>
<g id="k26-1" transform="translate(84 1362)"><use xlink:href="#wl"/></g><g id="k26-2" transform="translate(136 1362)"><use xlink:href="#wl"/></g><g id="k26-3" transform="translate(188 1362)"><use xlink:href="#wl"/></g><g id="k26-4" transform="translate(240 1362)"><use xlink:href="#wl"/></g><g id="k26-5" transform="translate(292 1362)"><use xlink:href="#wl"/></g><g id="k26-6" transform="translate(344 1362)"><use xlink:href="#wl"/></g><g id="k26-7" transform="translate(396 1362)"><use xlink:href="#wl"/></g><g id="k26-8" transform="translate(448 1362)"><use xlink:href="#wl"/></g><g id="k26-9" transform="translate(500 1362)"><use xlink:href="#wl"/></g><g id="k26-10" transform="translate(552 1362)"><use xlink:href="#wl"/></g><g id="k26-11" transform="translate(604 1362)"><use xlink:href="#wl"/></g><g id="k26-12" transform="translate(656 1362)"><use xlink:href="#wl"/></g>
<g id="k27-1" transform="translate(84 1414)"><use xlink:href="#wr"/></g><g id="k27-2" transform="translate(136 1414)"><use xlink:href="#wr"/></g><g id="k27-3" transform="translate(188 1414)"><use xlink:href="#wr"/></g><g id="k27-4" transform="translate(240 1414)"><use xlink:href="#wr"/></g><g id="k27-5" transform="translate(292 1414)"><use xlink:href="#wr"/></g><g id="k27-6" transform="translate(344 1414)"><use xlink:href="#wr"/></g><g id="k27-7" transform="translate(396 1414)"><use xlink:href="#wr"/></g><g id="k27-8" transform="translate(448 1414)"><use xlink:href="#wr"/></g><g id="k27-9" transform="translate(500 1414)"><use xlink:href="#wr"/></g><g id="k27-10" transform="translate(552 1414)"><use xlink:href="#wr"/></g><g id="k27-11" transform="translate(604 1414)"><use xlink:href="#wr"/></g><g id="k27-12" transform="translate(656 1414)"><use xlink:href="#wr"/></g>
</g>
<text id="watermark" class="wm" x="370" y="769">BRACELETBOOK.COM</text>
</svg>
